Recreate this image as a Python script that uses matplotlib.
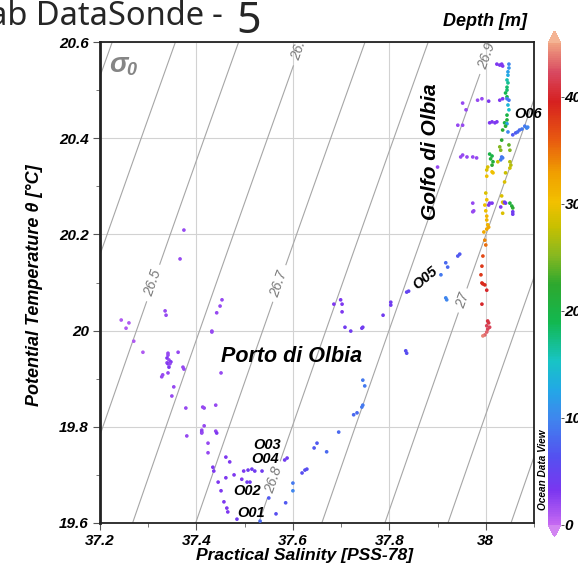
import numpy as np
import matplotlib
matplotlib.use("Agg")
import matplotlib.pyplot as plt
from matplotlib.colors import LinearSegmentedColormap, Normalize
from matplotlib.ticker import MultipleLocator

# ---------------- data ----------------
salinity = [
    # Porto di Olbia
    37.374, 37.366, 37.335, 37.337, 37.244, 37.260, 37.254,
    37.453, 37.449, 37.442, 37.432, 37.432, 37.270, 37.289,
    37.341, 37.341, 37.339, 37.343, 37.347, 37.339, 37.341, 37.345, 37.343, 37.341,
    37.362, 37.330, 37.328, 37.372, 37.374, 37.451, 37.353, 37.349,
    37.378, 37.413, 37.416, 37.440,
    37.416, 37.411, 37.411, 37.411, 37.440, 37.442, 37.380,
    37.424, 37.424, 37.434, 37.436, 37.461, 37.469, 37.445, 37.451, 37.457, 37.463, 37.465, 37.484,
    37.461, 37.478, 37.494, 37.505, 37.511,
    37.498, 37.507, 37.515, 37.521, 37.536,
    37.550, 37.565, 37.532,
    37.588, 37.583, 37.619, 37.625, 37.629, 37.600, 37.600, 37.585,
    37.650, 37.644, 37.670, 37.695,
    37.745, 37.743, 37.733, 37.726, 37.745, 37.749, 37.834, 37.836,
    37.685, 37.699, 37.702, 37.702, 37.708, 37.720, 37.743, 37.745,
    37.787, 37.803, 37.803, 37.836, 37.840,
    37.907, 37.917, 37.921, 37.942, 37.946, 37.917, 37.919,
    # Golfo di Olbia - deep column
    38.000, 38.002, 37.998, 38.000, 38.002, 38.002, 38.004, 38.006, 38.002, 37.996,
    37.998, 38.000,
    37.994, 37.992, 37.990, 37.992, 37.994, 37.998, 38.002, 37.992,
    38.004, 38.006, 38.002, 38.008, 38.004, 38.002, 37.998, 37.994,
    # Golfo - group near 20.25
    37.973, 37.975, 37.973, 38.008, 38.006, 38.013,
    38.033, 38.035, 38.037, 38.035, 38.031, 38.039, 38.041,
    38.050, 38.054, 38.056, 38.056, 38.056,
    # Golfo - upper part
    38.023, 38.029, 38.033, 38.035,
    38.048, 38.048, 38.046, 38.046, 38.044, 38.046, 38.044, 38.044, 38.041, 38.044,
    37.983, 37.992, 38.006, 38.029, 38.035, 38.044, 38.048,
    37.952, 37.959, 38.046, 38.048, 38.044, 38.044,
    38.008, 38.013, 38.019, 38.023, 38.039, 38.044, 38.041,
    37.942, 37.952, 38.035, 38.046,
    38.056, 38.062, 38.066, 38.070, 38.075, 38.081, 38.085, 38.087,
    38.033, 38.029, 38.031, 38.048, 38.050,
    37.948, 37.952, 37.961, 37.973, 37.981,
    38.008, 38.013, 38.010, 38.015, 38.013,
    38.033, 38.035, 38.031,
    38.050, 38.052, 38.050, 38.025, 38.004, 38.002, 37.900,
    38.041, 38.039, 38.013, 38.015, 38.002,
]

theta = [
    20.209, 20.149, 20.041, 20.032, 20.022, 20.016, 20.005,
    20.064, 20.051, 20.037, 19.999, 19.997, 19.978, 19.955,
    19.953, 19.949, 19.943, 19.939, 19.935, 19.933, 19.931, 19.931, 19.924, 19.912,
    19.955, 19.908, 19.904, 19.924, 19.920, 19.912, 19.883, 19.864,
    19.839, 19.841, 19.839, 19.845,
    19.802, 19.793, 19.789, 19.787, 19.791, 19.787, 19.781,
    19.766, 19.746, 19.716, 19.708, 19.737, 19.727, 19.685, 19.667, 19.644, 19.631, 19.623, 19.608,
    19.694, 19.700, 19.691, 19.685, 19.685,
    19.708, 19.710, 19.712, 19.708, 19.708,
    19.652, 19.619, 19.604,
    19.735, 19.731, 19.704, 19.710, 19.712, 19.683, 19.667, 19.642,
    19.766, 19.756, 19.748, 19.789,
    19.845, 19.841, 19.829, 19.825, 19.897, 19.885, 19.958, 19.953,
    20.055, 20.064, 20.055, 20.039, 20.007, 19.999, 20.005, 20.007,
    20.032, 20.053, 20.059, 20.080, 20.082,
    20.116, 20.141, 20.132, 20.155, 20.159, 20.068, 20.064,
    20.286, 20.272, 20.261, 20.249, 20.238, 20.230, 20.220, 20.215, 20.211, 20.205,
    20.188, 20.178,
    20.155, 20.134, 20.116, 20.099, 20.097, 20.095, 20.084, 20.055,
    20.020, 20.016, 20.010, 20.007, 20.003, 19.997, 19.991, 19.989,
    20.265, 20.249, 20.247, 20.265, 20.261, 20.265,
    20.280, 20.267, 20.265, 20.244, 20.257, 20.267, 20.265,
    20.265, 20.259, 20.255, 20.247, 20.242,
    20.554, 20.552, 20.554, 20.550,
    20.554, 20.546, 20.538, 20.531, 20.521, 20.515, 20.506, 20.500, 20.494, 20.486,
    20.479, 20.482, 20.477, 20.479, 20.482, 20.482, 20.479,
    20.473, 20.459, 20.469, 20.459, 20.448, 20.438,
    20.432, 20.434, 20.432, 20.434, 20.432, 20.430, 20.425,
    20.427, 20.427, 20.417, 20.413,
    20.407, 20.411, 20.413, 20.417, 20.419, 20.425, 20.421, 20.423,
    20.396, 20.382, 20.375, 20.386, 20.375,
    20.361, 20.365, 20.361, 20.361, 20.359,
    20.367, 20.363, 20.357, 20.351, 20.344,
    20.361, 20.359, 20.355,
    20.351, 20.344, 20.338, 20.351, 20.340, 20.334, 20.340,
    20.328, 20.309, 20.330, 20.328, 20.321,
]

depth = [
    2, 2, 2, 2, 1, 1, 1,
    2, 2, 2, 2, 2, 1, 1,
    2, 2, 3, 2, 3, 2, 3, 2, 3, 2,
    2, 2, 2, 2, 2, 2, 2, 2,
    2, 2, 2, 2,
    2, 2, 3, 2, 2, 3, 2,
    2, 2, 3, 3, 3, 3, 3, 3, 3, 3, 3, 4,
    3, 3, 3, 4, 4,
    3, 4, 4, 4, 4,
    7, 6, 8,
    4, 4, 6, 6, 6, 9, 10, 7,
    7, 7, 8, 8,
    9, 9, 8, 8, 9, 9, 6, 6,
    3, 3, 3, 3, 4, 4, 4, 4,
    4, 4, 4, 5, 5,
    9, 8, 8, 7, 7, 10, 10,
    29, 30, 30, 30, 31, 31, 31, 32, 32, 32,
    34, 35,
    37, 38, 38, 39, 39, 39, 40, 40,
    41, 41, 42, 42, 42, 43, 43, 44,
    2, 2, 2, 3, 3, 3,
    29, 29, 29, 29, 3, 4, 4,
    21, 21, 22, 4, 4,
    3, 3, 3, 3,
    10, 11, 12, 13, 16, 17, 18, 18, 19, 19,
    2, 2, 3, 3, 3, 9, 9,
    2, 2, 14, 15, 20, 21,
    3, 3, 3, 3, 20, 12, 22,
    2, 2, 22, 10,
    7, 7, 8, 8, 9, 9, 10, 10,
    22, 25, 25, 24, 25,
    2, 2, 2, 2, 2,
    20, 20, 21, 21, 22,
    9, 9, 9,
    27, 27, 28, 28, 29, 29, 2,
    28, 29, 30, 30, 30,
]

x_ticks = [37.2, 37.4, 37.6, 37.8, 38.0]
x_tick_labels = ["37.2", "37.4", "37.6", "37.8", "38"]
y_ticks = [19.6, 19.8, 20.0, 20.2, 20.4, 20.6]
y_tick_labels = ["19.6", "19.8", "20", "20.2", "20.4", "20.6"]
cb_ticks = [0, 10, 20, 30, 40]
sigma_levels = [26.2, 26.3, 26.4, 26.5, 26.6, 26.7, 26.8, 26.9, 27.0, 27.1, 27.2]
sigma_labelled = [26.5, 26.6, 26.7, 26.8, 26.9, 27.0]
station_names = ["O01", "O02", "O03", "O04", "O05", "O06"]

# ---------------- helpers ----------------
def sigma0(S, T):
    rw = (999.842594 + 6.793952e-2 * T - 9.095290e-3 * T**2 + 1.001685e-4 * T**3
          - 1.120083e-6 * T**4 + 6.536332e-9 * T**5)
    A = 8.24493e-1 - 4.0899e-3 * T + 7.6438e-5 * T**2 - 8.2467e-7 * T**3 + 5.3875e-9 * T**4
    B = -5.72466e-3 + 1.0227e-4 * T - 1.6546e-6 * T**2
    C = 4.8314e-4
    return rw + A * S + B * S**1.5 + C * S**2 - 1000.0

odv = LinearSegmentedColormap.from_list("odv", [
    (0.00, "#c468f2"),
    (0.07, "#7a36f0"),
    (0.14, "#5450f0"),
    (0.22, "#3f86ee"),
    (0.28, "#22a8e6"),
    (0.34, "#18c4c4"),
    (0.42, "#12b850"),
    (0.50, "#2ea82e"),
    (0.56, "#88b820"),
    (0.62, "#c8c000"),
    (0.67, "#f2c000"),
    (0.73, "#f0a000"),
    (0.80, "#e85a10"),
    (0.88, "#d62020"),
    (0.94, "#d84860"),
    (1.00, "#f0a080"),
])
odv.set_under("#d285f2")
odv.set_over("#f4b494")
norm = Normalize(vmin=0, vmax=45)

W, H = 578, 569
fig = plt.figure(figsize=(W / 100, H / 100), dpi=100)
fig.patch.set_facecolor("white")

def fx(px):
    return px / W

def fy(py):
    return 1 - py / H

ax = fig.add_axes([fx(100), fy(523), fx(534) - fx(100), fy(42) - fy(523)])
ax.set_xlim(37.2, 38.1)
ax.set_ylim(19.6, 20.6)

# grid
for xv in x_ticks:
    ax.axvline(xv, color="#d2d2d2", lw=0.8, zorder=0)
for yv in y_ticks:
    ax.axhline(yv, color="#d2d2d2", lw=0.8, zorder=0)

# density contours
Sg, Tg = np.meshgrid(np.linspace(37.1, 38.2, 300), np.linspace(19.5, 20.7, 300))
Dg = sigma0(Sg, Tg)
unlab = [v for v in sigma_levels if v not in sigma_labelled]
ax.contour(Sg, Tg, Dg, levels=unlab, colors="#a6a6a6", linewidths=0.8, zorder=1)
cs = ax.contour(Sg, Tg, Dg, levels=sigma_labelled, colors="#a6a6a6",
                linewidths=0.8, zorder=1)
label_pos = [(37.310, 20.099), (37.608, 20.592), (37.569, 20.099),
             (37.563, 19.689), (37.981, 20.579), (37.948, 20.064)]
lbls = ax.clabel(cs, manual=label_pos, fmt="%g",
                 fontsize=10, colors="#7a7a7a", inline=True, inline_spacing=4)
for t in lbls:
    t.set_fontstyle("italic")
    t.set_family("Liberation Sans")
    t.set_clip_on(True)

# data
ax.scatter(salinity, theta, c=depth, cmap=odv, norm=norm, s=7,
           edgecolors="none", zorder=3)

# ticks
lab_font = dict(family="Liberation Sans", weight="bold", style="italic")
ax.set_xticks(x_ticks)
ax.set_xticklabels(x_tick_labels, fontsize=11, **lab_font)
ax.set_yticks(y_ticks)
ax.set_yticklabels(y_tick_labels, fontsize=11, **lab_font)
ax.xaxis.set_minor_locator(MultipleLocator(0.1))
ax.yaxis.set_minor_locator(MultipleLocator(0.1))
ax.tick_params(which="major", direction="out", length=5, width=0.8, color="#555555", pad=3)
ax.tick_params(which="minor", direction="out", length=3, width=0.7, color="#777777")
for sp in ax.spines.values():
    sp.set_color("#222222")
    sp.set_linewidth(1.3)
ax.spines["left"].set_linewidth(2.0)

ax.set_xlabel("Practical Salinity [PSS-78]", fontsize=12.6, va="top", **lab_font)
ax.xaxis.set_label_coords(0.472, -0.052, transform=ax.transAxes)
ax.set_ylabel("Potential Temperature \u03b8 [\u00b0C]", fontsize=13, **lab_font)
ax.yaxis.set_label_coords(-0.131, 0.495, transform=ax.transAxes)

# annotations
ax.text(fx(109), fy(72), "\u03c3", transform=fig.transFigure, fontsize=20,
        color="#858585", **lab_font)
ax.text(fx(126), fy(75), "0", transform=fig.transFigure, fontsize=13,
        color="#858585", **lab_font)
ax.text(fx(292), fy(356), "Porto di Olbia", transform=fig.transFigure, fontsize=15.5,
        ha="center", va="center", color="black", **lab_font)
ax.text(fx(431), fy(152), "Golfo di Olbia", transform=fig.transFigure, fontsize=15,
        ha="center", va="center", rotation=90, color="black", **lab_font)
st_pos = [(251, 513, 0), (247, 491, 0), (267, 445, 0), (265, 459, 0), (425, 278, 40), (528, 114, 0)]
for name, (px, py, rot) in zip(station_names, st_pos):
    ax.text(fx(px), fy(py), name, transform=fig.transFigure, fontsize=10.5,
            ha="center", va="center", rotation=rot, color="black", zorder=5, **lab_font)

# colorbar (interior 0..45 spans y=525..43, arrows outside)
cax = fig.add_axes([fx(548), fy(537), fx(561) - fx(548), fy(31) - fy(537)])
cb = fig.colorbar(plt.cm.ScalarMappable(norm=norm, cmap=odv), cax=cax,
                  extend="both", extendfrac=0.025, ticks=cb_ticks)
cb.outline.set_visible(False)
cax.minorticks_off()
cax.tick_params(length=2, width=0.7, color="#555555", pad=0.5)
cax.set_yticklabels([str(v) for v in cb_ticks], fontsize=11, **lab_font)
fig.text(fx(527), fy(22), "Depth [m]", fontsize=13, ha="right", va="center", **lab_font)
fig.text(fx(543), fy(470), "Ocean Data View", fontsize=7.2, rotation=90,
         ha="center", va="center", **lab_font)

# slide title fragment (clipped at the top of the picture)
fig.text(fx(204), fy(25), "Lab DataSonde", fontsize=23.5, ha="right", va="baseline",
         family="Noto Sans", color="#262626")
fig.text(fx(212), fy(25), "-", fontsize=24, ha="left", va="baseline",
         family="Noto Sans", color="#262626")
fig.text(fx(236), fy(33), "5", fontsize=31, ha="left", va="baseline",
         family="Noto Sans", color="#262626")

fig.savefig("out.png", dpi=100, facecolor="white")
